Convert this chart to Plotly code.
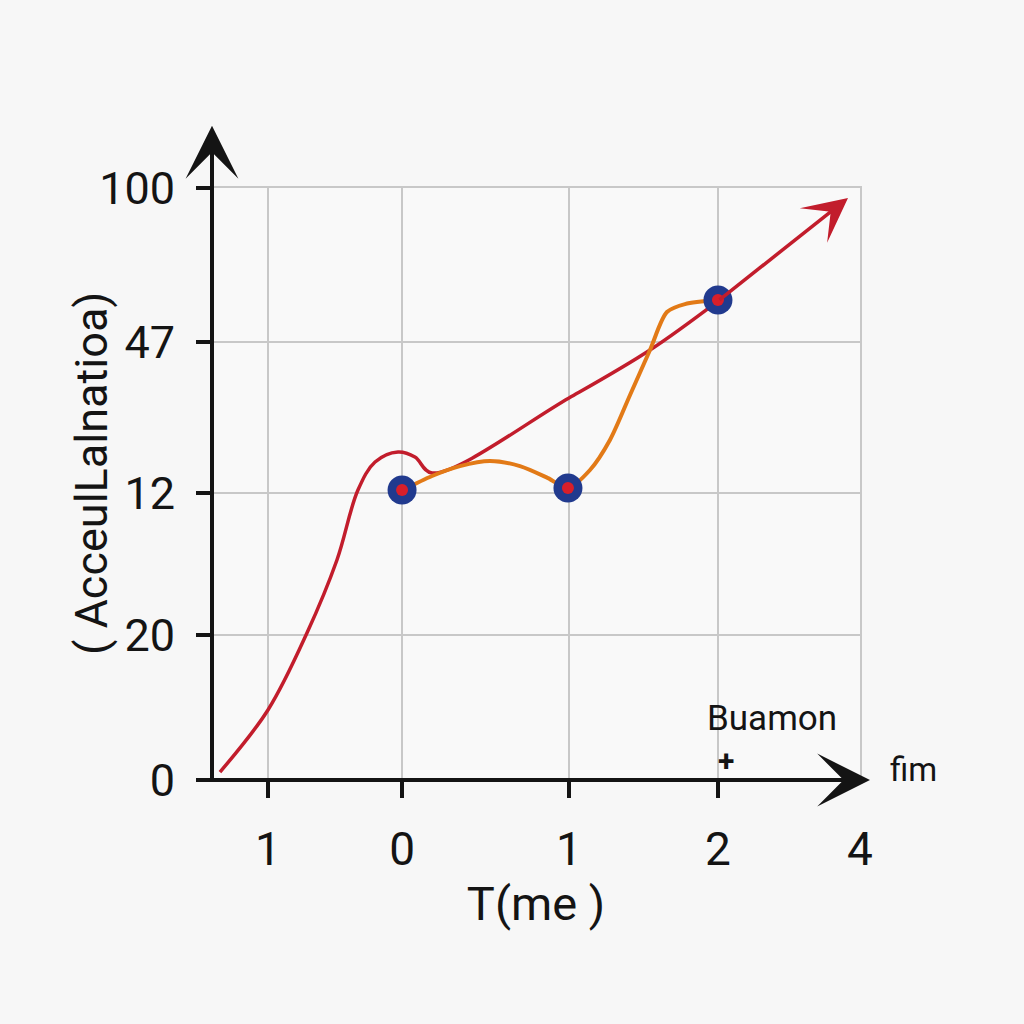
import plotly.graph_objects as go

# ---------------- data (chart units) ----------------
y_tick_vals = [0.0, 0.967, 1.913, 2.92, 3.947]
y_tick_text = ["0", "20", "12", "47", "100"]
x_tick_vals = [0.373, 1.267, 2.38, 3.373, 4.32]
x_tick_text = ["1", "0", "1", "2", "4"]

red_x = [0.053, 0.373, 0.633, 0.833, 0.973, 1.087, 1.240, 1.353, 1.467,
         2.380, 2.920, 3.373]
red_y = [0.053, 0.467, 0.980, 1.467, 1.933, 2.120, 2.187, 2.153, 2.047,
         2.547, 2.867, 3.193]
red_tip_x = 4.24
red_tip_y = 3.88

orange_x = [1.273, 1.467, 1.653, 1.853, 2.053, 2.240, 2.373, 2.520, 2.653, 2.787,
            2.920, 3.033, 3.153, 3.373]
orange_y = [1.933, 2.027, 2.093, 2.127, 2.093, 2.013, 1.947, 2.067, 2.267, 2.567,
            2.867, 3.120, 3.173, 3.200]

point_x = [1.267, 2.373, 3.373]
point_y = [1.933, 1.947, 3.200]

x_title = "T(me )"
y_title = "( AcceulLalnatioa)"
label_text = "Buamon"
label_x, label_y = 3.733, 0.413
plus_x, plus_y = 3.427, 0.133
end_text = "fim"

RED = "#c21d2c"
ORANGE = "#e27a17"
BLUE = "#213a8e"
DOT = "#d81f2a"
INK = "#141414"
GRID = "#c8c8c8"
FONT = "Roboto"

fig = go.Figure()

fig.add_trace(go.Scatter(x=red_x, y=red_y, mode="lines",
                         line=dict(color=RED, width=3.5, shape="spline", smoothing=1.0),
                         hoverinfo="skip", showlegend=False))
fig.add_trace(go.Scatter(x=orange_x, y=orange_y, mode="lines",
                         line=dict(color=ORANGE, width=4, shape="spline", smoothing=0.8),
                         hoverinfo="skip", showlegend=False))
fig.add_trace(go.Scatter(x=point_x, y=point_y, mode="markers", xaxis="x2",
                         marker=dict(size=29, color=BLUE, line=dict(width=0)),
                         hoverinfo="skip", showlegend=False))
fig.add_trace(go.Scatter(x=point_x, y=point_y, mode="markers", xaxis="x2",
                         marker=dict(size=12, color=DOT, line=dict(width=0)),
                         hoverinfo="skip", showlegend=False))

x_range = [0, x_tick_vals[-1]]
y_range = [0, y_tick_vals[-1]]

fig.update_layout(
    width=1024, height=1024,
    template="none",
    paper_bgcolor="#f7f7f7",
    plot_bgcolor="#f9f9f9",
    margin=dict(l=212, r=164, t=188, b=244),
    showlegend=False,
    xaxis=dict(range=x_range, tickvals=x_tick_vals, ticktext=x_tick_text,
               ticks="", showgrid=True, gridcolor=GRID, gridwidth=2,
               showline=True, linecolor=GRID, linewidth=2, mirror=True,
               zeroline=False, automargin=False, fixedrange=True,
               ticklabelstandoff=28,
               tickfont=dict(family=FONT, size=46, color=INK),
               title=dict(text=x_title, standoff=10,
                          font=dict(family=FONT, size=47, color=INK))),
    xaxis2=dict(range=x_range, overlaying="x", anchor="y", side="bottom",
                tickvals=x_tick_vals[:4], ticks="outside", ticklen=17, tickwidth=4,
                tickcolor=INK, showticklabels=False, showgrid=False,
                showline=False, zeroline=False, fixedrange=True, automargin=False),
    yaxis=dict(range=y_range, tickvals=y_tick_vals, ticktext=y_tick_text,
               ticks="outside", ticklen=14, tickwidth=4, tickcolor=INK,
               showgrid=True, gridcolor=GRID, gridwidth=2,
               showline=True, linecolor=GRID, linewidth=2, mirror=True,
               zeroline=False, automargin=False, fixedrange=True,
               ticklabelstandoff=12,
               tickfont=dict(family=FONT, size=45, color=INK)),
)

annotations = [
    # y axis title
    dict(xref="paper", yref="paper", x=-0.185, y=0.517, text=y_title, textangle=-90,
         showarrow=False, xanchor="center", yanchor="middle",
         font=dict(family=FONT, size=45, color=INK)),
    # y axis with arrow
    dict(xref="paper", yref="paper", x=0, y=1.105, ax=0, ay=656, text="",
         showarrow=True, arrowhead=3, arrowsize=2.2, arrowwidth=4, arrowcolor=INK),
    # x axis with arrow
    dict(xref="paper", yref="paper", x=1.0154, y=0, ax=-662, ay=0, text="",
         showarrow=True, arrowhead=3, arrowsize=2.2, arrowwidth=4, arrowcolor=INK),
    # red trend arrow head
    dict(xref="x", yref="y", axref="x", ayref="y", x=red_tip_x, y=red_tip_y,
         ax=red_x[-1], ay=red_y[-1], text="", showarrow=True, arrowhead=3,
         arrowsize=2.1, arrowwidth=3.5, arrowcolor=RED),
    dict(xref="x", yref="y", x=label_x, y=label_y, text=label_text, showarrow=False,
         xanchor="center", yanchor="middle",
         font=dict(family=FONT, size=35, color=INK)),
    dict(xref="x", yref="y", x=plus_x, y=plus_y, text="<b>+</b>", showarrow=False,
         xanchor="center", yanchor="middle",
         font=dict(family=FONT, size=30, color=INK)),
    dict(xref="paper", yref="paper", x=1.082, y=0.017, text=end_text, showarrow=False,
         xanchor="center", yanchor="middle",
         font=dict(family=FONT, size=33, color=INK)),
]
fig.update_layout(annotations=annotations)

fig.write_html("out.html")
